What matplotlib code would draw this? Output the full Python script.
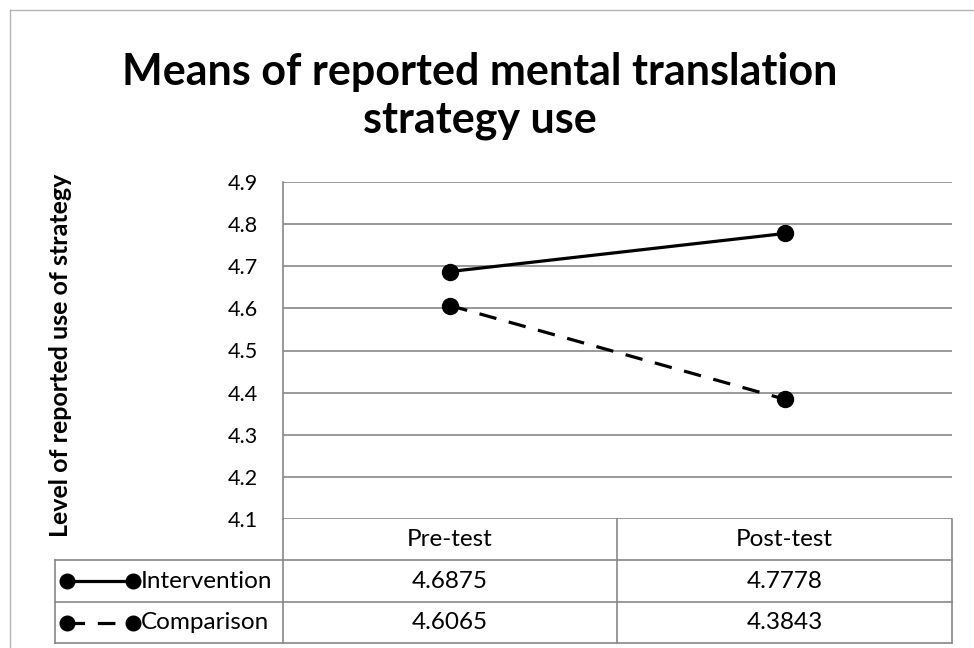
import matplotlib
matplotlib.use('Agg')
import matplotlib.pyplot as plt
from matplotlib.lines import Line2D

# ===============================================
# data
# ===============================================
tests = ['Pre-test', 'Post-test']
intervention = [4.6875, 4.7778]
comparison = [4.6065, 4.3843]
series_names = ['Intervention', 'Comparison']
yticks = [4.1, 4.2, 4.3, 4.4, 4.5, 4.6, 4.7, 4.8, 4.9]

plt.rcParams['font.family'] = ['Lato', 'DejaVu Sans']

W, H = 974, 648
fig = plt.figure(figsize=(W / 100, H / 100), dpi=100)


def fx(px):
    return px / W


def fy(py):
    return 1 - py / H


def hline(x0, x1, y, **kw):
    fig.lines.append(Line2D([fx(x0), fx(x1)], [fy(y), fy(y)], transform=fig.transFigure, **kw))


def vline(x, y0, y1, **kw):
    fig.lines.append(Line2D([fx(x), fx(x)], [fy(y0), fy(y1)], transform=fig.transFigure, **kw))


grid_c = '#878787'
dash = (5.5, 4)

# outer chart border (only top and left visible in the crop)
hline(10, W, 10, color='#b4b4b4', lw=1)
vline(10, 10, H, color='#b4b4b4', lw=1)

# plot area
left, right, top, bottom = 283, 952, 182, 519
ax = fig.add_axes([fx(left), fy(bottom), fx(right - left), (bottom - top) / H])
x = range(len(tests))
ax.plot(x, intervention, '-o', color='black', lw=2.3, ms=11.5, label=series_names[0], zorder=3)
ax.plot(x, comparison, '--o', color='black', lw=2.3, ms=11.5, dashes=dash, label=series_names[1], zorder=3)
ax.set_xlim(-0.5, 1.5)
ax.set_ylim(4.1, 4.9)
ax.set_yticks(yticks)
ax.set_yticklabels(['%.1f' % v for v in yticks], fontsize=15.5)
ax.tick_params(axis='y', length=0, pad=18)
ax.set_xticks([])
ax.yaxis.grid(True, color=grid_c, lw=1.2)
for s in ['top', 'right', 'bottom']:
    ax.spines[s].set_visible(False)
ax.spines['left'].set_color(grid_c)
ax.spines['left'].set_linewidth(1.2)
ax.set_axisbelow(True)

# title and y label
fig.text(fx(480), fy(96), 'Means of reported mental translation\nstrategy use', ha='center', va='center',
         fontsize=31, fontweight='bold', linespacing=1.2)
fig.text(fx(61), fy(355), 'Level of reported use of strategy', rotation=90, ha='center', va='center',
         fontsize=18, fontweight='bold')

# data table below the plot
tab_left, col1, col2 = 55, 617, 952
rows = [519, 560, 602, 643]
vline(left, rows[0], rows[3], color=grid_c, lw=1.2)
vline(col1, rows[0], rows[3], color=grid_c, lw=1.2)
vline(col2, rows[0], rows[3], color=grid_c, lw=1.2)
vline(tab_left, rows[1], rows[3], color=grid_c, lw=1.2)
for r in rows[1:]:
    hline(tab_left, col2, r, color=grid_c, lw=1.2)

fs = 17.5
centers = [(left + col1) / 2, (col1 + col2) / 2]
for cx, t in zip(centers, tests):
    fig.text(fx(cx), fy((rows[0] + rows[1]) / 2), t, ha='center', va='center', fontsize=fs)

for j, (name, vals, ls) in enumerate(zip(series_names, [intervention, comparison], ['-', '--'])):
    cy = (rows[j + 1] + rows[j + 2]) / 2
    key = Line2D([fx(67), fx(133)], [fy(cy), fy(cy)], transform=fig.transFigure, color='black',
                 lw=2.3, ls=ls, marker='o', ms=10.5)
    if ls == '--':
        key.set_dashes(dash)
    fig.lines.append(key)
    fig.text(fx(141), fy(cy), name, ha='left', va='center', fontsize=fs)
    for cx, v in zip(centers, vals):
        fig.text(fx(cx), fy(cy), '%.4f' % v, ha='center', va='center', fontsize=fs)

fig.savefig('out.png', dpi=100)
